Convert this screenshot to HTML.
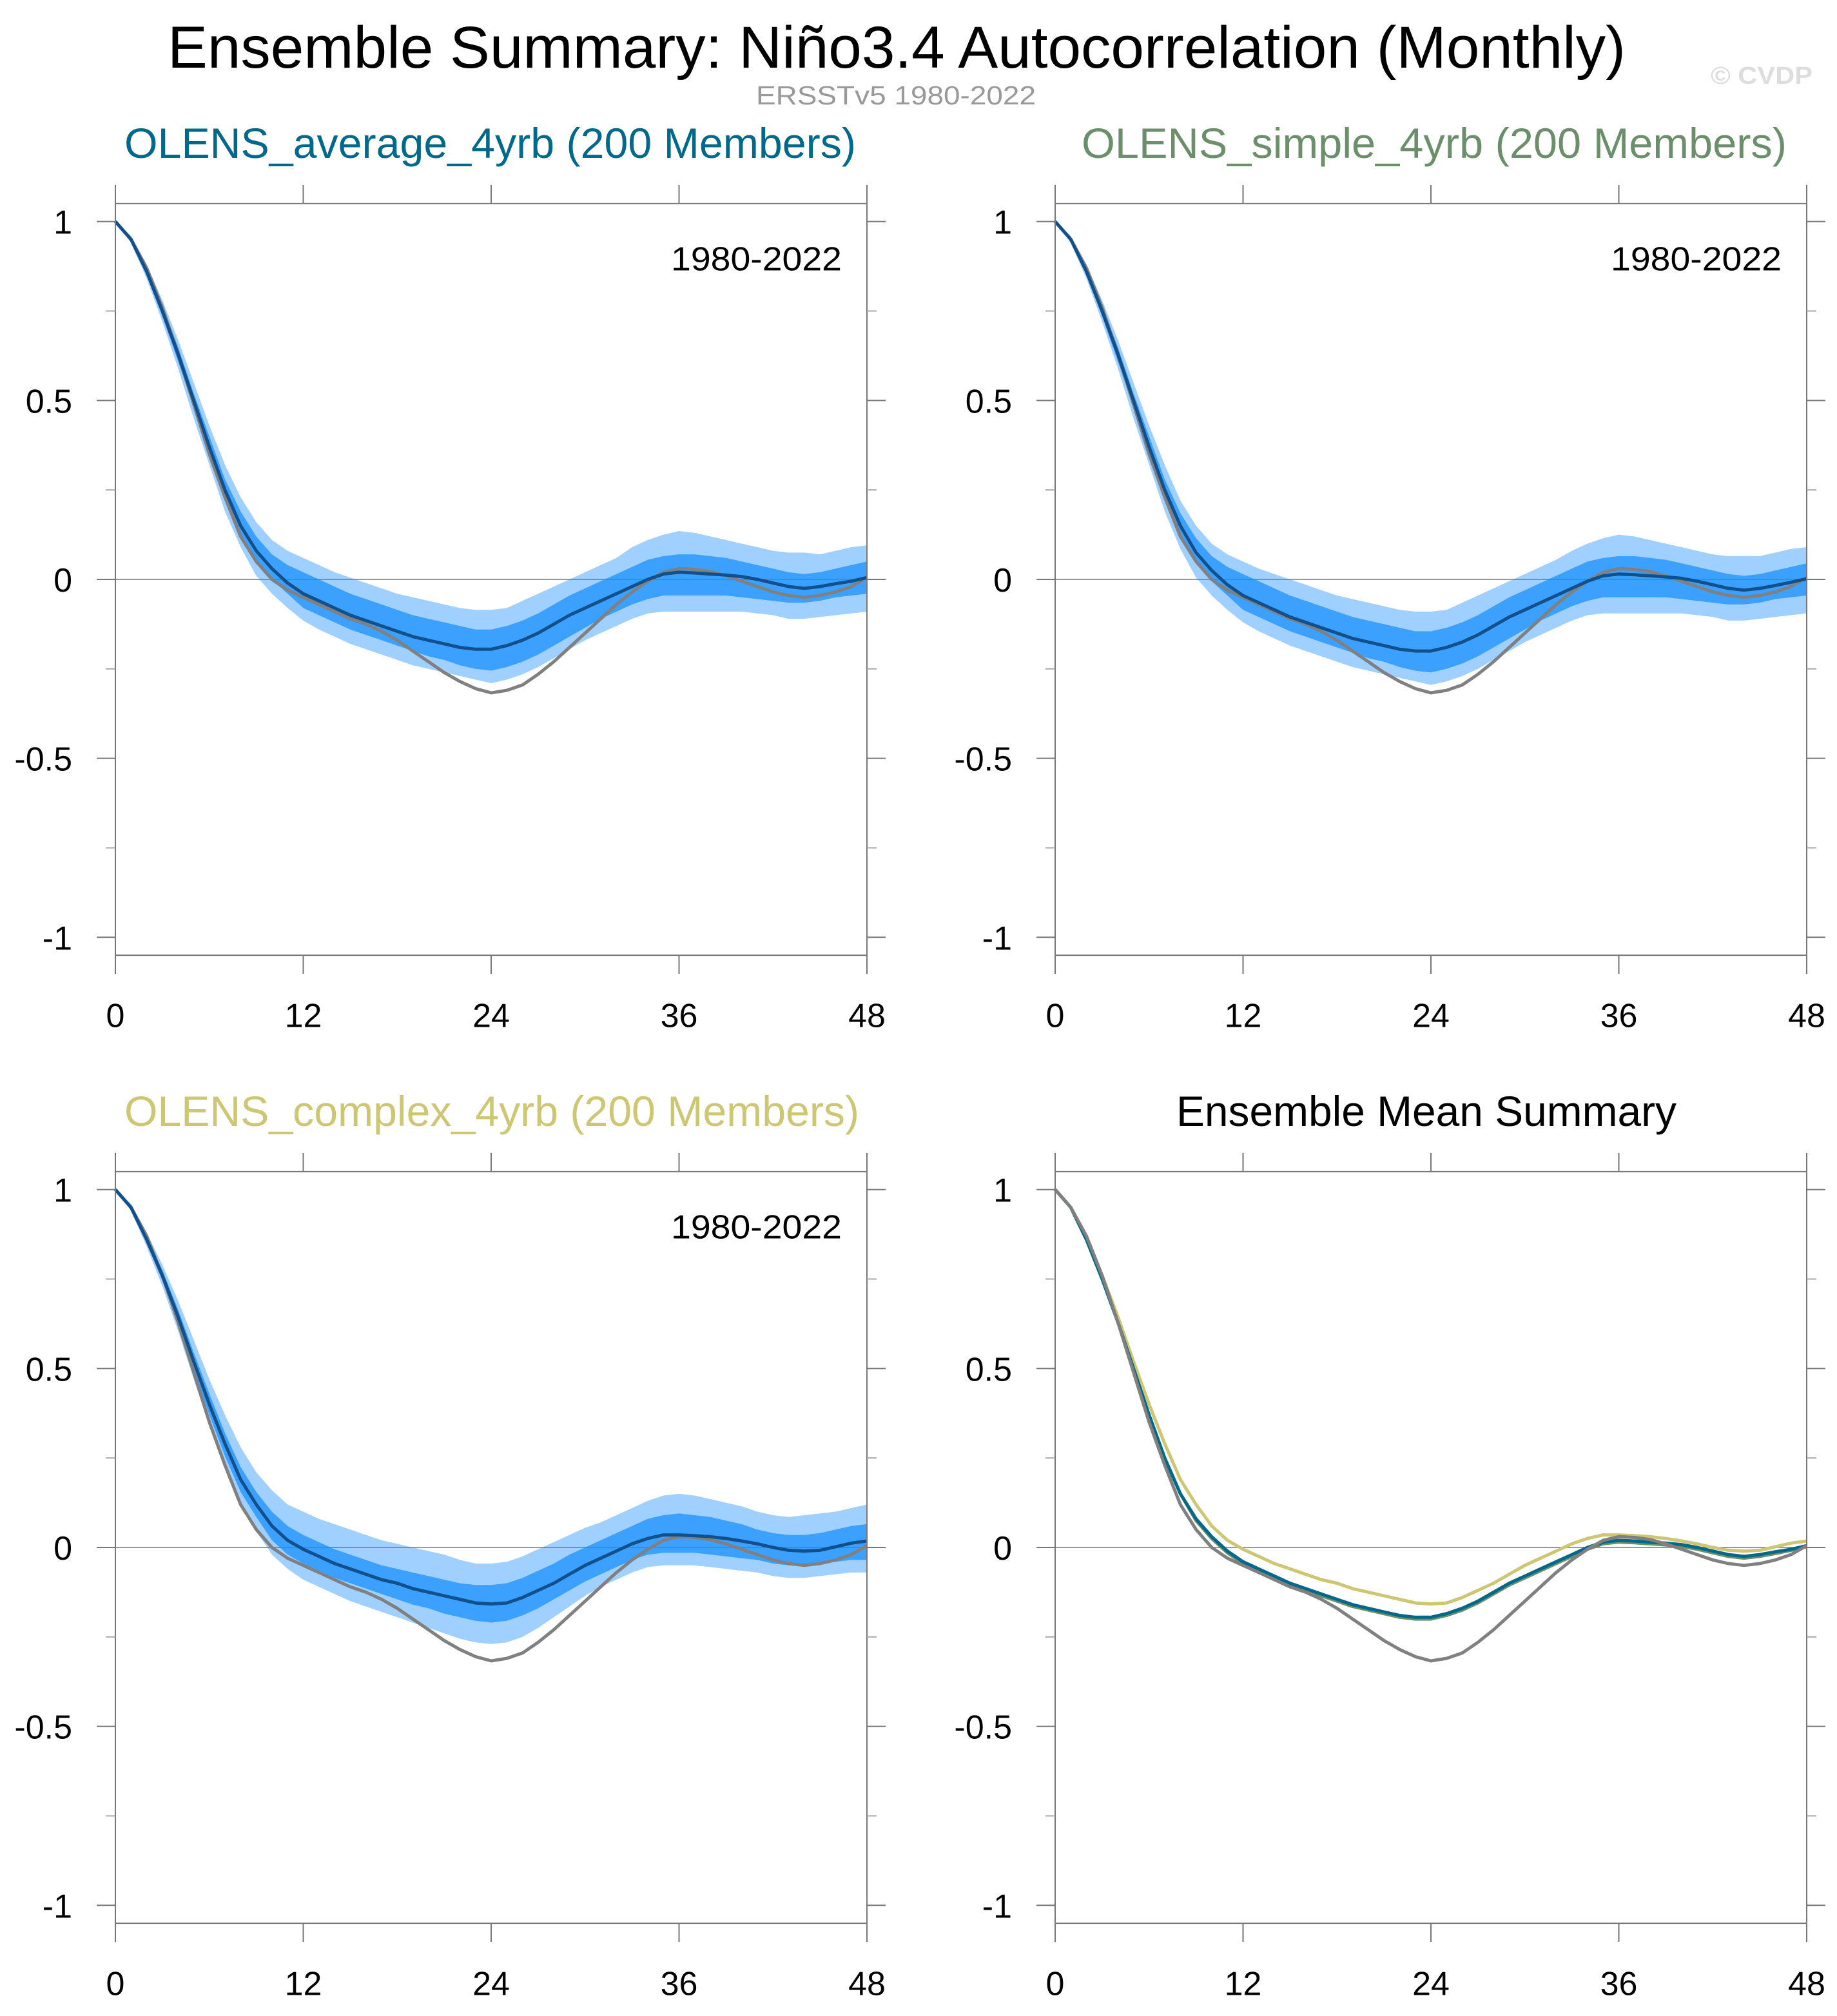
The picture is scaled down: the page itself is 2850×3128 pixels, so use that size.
<!DOCTYPE html>
<html><head><meta charset="utf-8"><title>Ensemble Summary: Niño3.4 Autocorrelation</title>
<style>html,body{margin:0;padding:0;background:#fff;}svg{display:block;font-family:"Liberation Sans",Arial,sans-serif;}</style>
</head><body>
<svg id="fig" xmlns="http://www.w3.org/2000/svg" width="2850" height="3128" viewBox="0 0 2850 3128">
<rect width="2850" height="3128" fill="#fff"/>
<text x="260" y="105" font-size="92" textLength="2262" lengthAdjust="spacingAndGlyphs" fill="#000">Ensemble Summary: Niño3.4 Autocorrelation (Monthly)</text>
<text x="1173" y="162" font-size="41" textLength="434" lengthAdjust="spacingAndGlyphs" fill="#999">ERSST​v5 1980-2022</text>
<text x="2654" y="130" font-size="38" font-weight="bold" textLength="158" lengthAdjust="spacingAndGlyphs" fill="#ddd">© CVDP</text>
<g id="panels"></g>
</svg>
<script>
const months = [];
for (let i = 0; i <= 48; i++) months.push(i);
const yTickVals = [1, 0.5, 0, -0.5, -1];
const yTickLabels = ["1", "0.5", "0", "-0.5", "-1"];
const yMinorVals = [0.75, 0.25, -0.25, -0.75];
const xTickVals = [0, 12, 24, 36, 48];
const xTickLabels = ["0", "12", "24", "36", "48"];

const obs = [1,.95,.87,.76,.63,.49,.35,.23,.12,.05,0,-.03,-.05,-.07,-.09,-.11,-.125,-.145,-.17,-.20,-.23,-.26,-.285,-.305,-.317,-.31,-.295,-.265,-.23,-.19,-.15,-.11,-.07,-.035,-.005,.02,.03,.028,.022,.01,-.005,-.02,-.035,-.045,-.05,-.045,-.035,-.02,.005];

const mean1 = [1,.95,.86,.75,.63,.50,.37,.25,.15,.08,.03,-.01,-.04,-.06,-.08,-.10,-.115,-.13,-.145,-.16,-.17,-.18,-.19,-.195,-.195,-.185,-.17,-.15,-.125,-.10,-.08,-.06,-.04,-.02,0,.015,.02,.018,.015,.012,.008,0,-.01,-.02,-.025,-.02,-.012,-.005,.005];
const p90_1 = [1,.96,.88,.78,.67,.55,.43,.32,.23,.16,.11,.08,.06,.04,.02,.005,-.01,-.025,-.04,-.05,-.06,-.07,-.08,-.085,-.085,-.08,-.06,-.04,-.02,0,.02,.04,.06,.09,.11,.125,.135,.13,.12,.11,.10,.09,.08,.075,.075,.07,.08,.09,.095];
const p75_1 = [1,.955,.87,.765,.65,.52,.40,.28,.19,.12,.07,.04,.02,0,-.02,-.04,-.055,-.07,-.085,-.10,-.11,-.12,-.13,-.14,-.14,-.13,-.115,-.095,-.07,-.045,-.025,-.005,.015,.035,.055,.065,.07,.07,.065,.06,.05,.04,.03,.02,.015,.02,.03,.04,.05];
const p25_1 = [1,.945,.85,.735,.61,.48,.35,.22,.12,.05,0,-.04,-.08,-.10,-.12,-.14,-.155,-.17,-.185,-.20,-.215,-.225,-.24,-.25,-.255,-.245,-.23,-.21,-.185,-.16,-.135,-.11,-.09,-.07,-.055,-.045,-.045,-.045,-.045,-.045,-.05,-.055,-.06,-.065,-.065,-.06,-.05,-.045,-.04];
const p10_1 = [1,.94,.84,.72,.59,.45,.32,.19,.09,.01,-.04,-.08,-.115,-.14,-.16,-.18,-.195,-.21,-.225,-.24,-.25,-.26,-.27,-.28,-.29,-.28,-.265,-.245,-.22,-.195,-.17,-.15,-.13,-.11,-.095,-.09,-.09,-.09,-.09,-.09,-.09,-.095,-.10,-.11,-.11,-.105,-.10,-.095,-.09];

const mean2 = [1,.95,.86,.75,.63,.50,.37,.25,.15,.075,.025,-.015,-.045,-.065,-.085,-.105,-.12,-.135,-.15,-.165,-.175,-.185,-.195,-.2,-.2,-.19,-.175,-.155,-.13,-.105,-.085,-.065,-.045,-.025,-.005,.01,.015,.013,.01,.007,.003,-.005,-.015,-.025,-.03,-.025,-.017,-.008,.002];
const p90_2 = [1,.96,.88,.78,.67,.55,.43,.32,.22,.15,.10,.07,.05,.03,.015,0,-.015,-.03,-.045,-.055,-.065,-.075,-.085,-.09,-.09,-.085,-.065,-.045,-.025,-.005,.015,.035,.055,.08,.10,.115,.125,.12,.11,.10,.09,.08,.07,.065,.065,.065,.075,.085,.09];
const p75_2 = [1,.955,.87,.765,.65,.52,.40,.28,.185,.115,.065,.035,.015,-.005,-.025,-.045,-.06,-.075,-.09,-.105,-.115,-.125,-.135,-.145,-.145,-.135,-.12,-.10,-.075,-.05,-.03,-.01,.01,.03,.05,.06,.065,.065,.06,.055,.045,.035,.025,.015,.01,.015,.025,.035,.045];
const p25_2 = [1,.945,.85,.735,.61,.48,.35,.22,.115,.045,-.005,-.045,-.085,-.105,-.125,-.145,-.16,-.175,-.19,-.205,-.22,-.23,-.245,-.255,-.26,-.25,-.235,-.215,-.19,-.165,-.14,-.115,-.095,-.075,-.06,-.05,-.05,-.05,-.05,-.05,-.055,-.06,-.065,-.07,-.07,-.065,-.055,-.05,-.045];
const p10_2 = [1,.94,.84,.72,.59,.45,.32,.19,.085,.005,-.045,-.085,-.12,-.145,-.165,-.185,-.20,-.215,-.23,-.245,-.255,-.265,-.275,-.285,-.295,-.285,-.27,-.25,-.225,-.20,-.175,-.155,-.135,-.115,-.10,-.095,-.095,-.095,-.095,-.095,-.095,-.10,-.105,-.115,-.115,-.11,-.105,-.10,-.095];

const mean3 = [1,.95,.86,.76,.645,.52,.40,.29,.19,.12,.06,.02,-.005,-.025,-.045,-.06,-.075,-.09,-.10,-.115,-.125,-.135,-.145,-.155,-.158,-.155,-.14,-.12,-.10,-.075,-.05,-.03,-.01,.01,.025,.035,.035,.033,.03,.025,.018,.01,0,-.008,-.01,-.008,.002,.012,.018];
const p90_3 = [1,.96,.88,.79,.69,.58,.47,.37,.28,.21,.16,.12,.10,.08,.065,.05,.035,.02,.01,0,-.01,-.02,-.035,-.045,-.045,-.04,-.025,-.005,.015,.035,.055,.07,.09,.11,.13,.145,.15,.145,.135,.125,.115,.10,.09,.085,.09,.095,.10,.11,.12];
const p75_3 = [1,.955,.87,.775,.665,.545,.43,.32,.225,.155,.10,.06,.035,.015,-.005,-.02,-.035,-.05,-.06,-.07,-.08,-.09,-.10,-.105,-.105,-.10,-.085,-.065,-.045,-.02,0,.02,.04,.06,.08,.09,.095,.09,.085,.075,.065,.05,.04,.035,.035,.04,.05,.06,.065];
const p25_3 = [1,.945,.85,.745,.625,.495,.37,.255,.155,.085,.02,-.02,-.045,-.065,-.085,-.10,-.115,-.13,-.145,-.16,-.17,-.185,-.195,-.205,-.21,-.205,-.19,-.17,-.145,-.12,-.095,-.075,-.055,-.035,-.02,-.015,-.015,-.015,-.02,-.025,-.03,-.035,-.045,-.05,-.05,-.045,-.04,-.035,-.035];
const p10_3 = [1,.94,.84,.73,.605,.47,.34,.22,.12,.045,-.02,-.06,-.09,-.11,-.13,-.15,-.165,-.18,-.195,-.21,-.225,-.24,-.255,-.265,-.27,-.265,-.25,-.225,-.195,-.165,-.135,-.11,-.09,-.07,-.055,-.05,-.05,-.05,-.055,-.06,-.065,-.07,-.08,-.085,-.085,-.08,-.075,-.07,-.07];

const NS = "http://www.w3.org/2000/svg";
const root = document.getElementById("panels");
const PW = 1166, UNIT = 555.3;
const colX = [179, 1637], rowY = [343.7, 1845.7];

function mk(tag, attrs, parent) {
  const e = document.createElementNS(NS, tag);
  for (const k in attrs) e.setAttribute(k, attrs[k]);
  parent.appendChild(e);
  return e;
}

function makeAxes(x0, y1) {
  const xs = m => x0 + m / 48 * PW;
  const ys = v => y1 + (1 - v) * UNIT;
  return { xs, ys };
}

function linePath(ax, vals) {
  return vals.map((v, i) => (i ? "L" : "M") + ax.xs(months[i]).toFixed(1) + " " + ax.ys(v).toFixed(1)).join(" ");
}
function bandPath(ax, lo, hi) {
  let d = hi.map((v, i) => (i ? "L" : "M") + ax.xs(months[i]).toFixed(1) + " " + ax.ys(v).toFixed(1)).join(" ");
  for (let i = lo.length - 1; i >= 0; i--) d += " L" + ax.xs(months[i]).toFixed(1) + " " + ax.ys(lo[i]).toFixed(1);
  return d + " Z";
}

function drawPanel(p) {
  const g = mk("g", {}, root);
  
  
  const ax = makeAxes(p.x0, p.y1);
  const left = ax.xs(0), right = ax.xs(48), top = ax.ys(1.05), bot = ax.ys(-1.05);

  const t = mk("text", { x: p.titleX, y: p.y1 - 98.7, "font-size": 66, fill: p.titleColor, textLength: p.titleW, lengthAdjust: "spacingAndGlyphs" }, g);
  t.textContent = p.title;
  
  

  if (p.bands) {
    const b1 = mk("path", { d: bandPath(ax, p.bands[0], p.bands[3]), fill: "#a0d0ff" }, g);
    
    
    const b2 = mk("path", { d: bandPath(ax, p.bands[1], p.bands[2]), fill: "#3ca0ff" }, g);
    
    
  }
  // zero line
  const z = mk("line", { x1: left - 29, x2: right + 29, y1: ax.ys(0), y2: ax.ys(0), stroke: "#777", "stroke-width": 1.5 }, g);
  
  

  p.lines.forEach(l => {
    const pl = mk("path", { d: linePath(ax, l.vals), fill: "none", stroke: l.color, "stroke-width": 5, "stroke-linejoin": "round" }, g);
    
    
  });

  // frame
  const fr = mk("g", { stroke: "#777", "stroke-width": 2 }, g);
  
  
  mk("line", { x1: left, x2: right, y1: top, y2: top }, fr);
  mk("line", { x1: left, x2: right, y1: bot, y2: bot }, fr);
  mk("line", { x1: left, x2: left, y1: top - 29, y2: bot + 29 }, fr);
  mk("line", { x1: right, x2: right, y1: top - 29, y2: bot + 29 }, fr);
  yTickVals.forEach((v, i) => {
    mk("line", { x1: left - 29, x2: left, y1: ax.ys(v), y2: ax.ys(v) }, fr);
    mk("line", { x1: right, x2: right + 29, y1: ax.ys(v), y2: ax.ys(v) }, fr);
    const tl = mk("text", { x: left - 67, y: ax.ys(v) + 19, "font-size": 52, "text-anchor": "end", fill: "#000", stroke: "none" }, g);
    tl.textContent = yTickLabels[i];
    
    
  });
  yMinorVals.forEach(v => {
    mk("line", { x1: left - 15, x2: left, y1: ax.ys(v), y2: ax.ys(v), stroke: "#aaa" }, fr);
    mk("line", { x1: right, x2: right + 15, y1: ax.ys(v), y2: ax.ys(v), stroke: "#aaa" }, fr);
  });
  xTickVals.forEach((v, i) => {
    mk("line", { x1: ax.xs(v), x2: ax.xs(v), y1: top - 29, y2: top }, fr);
    mk("line", { x1: ax.xs(v), x2: ax.xs(v), y1: bot, y2: bot + 29 }, fr);
    const tl = mk("text", { x: ax.xs(v), y: ax.ys(-1) + 139, "font-size": 52, "text-anchor": "middle", fill: "#000", stroke: "none" }, g);
    tl.textContent = xTickLabels[i];
    
    
  });
  if (p.period) {
    const pt = mk("text", { x: left + 862, y: p.y1 + 76, "font-size": 52, fill: "#000", textLength: 265, lengthAdjust: "spacingAndGlyphs" }, g);
    pt.textContent = "1980-2022";
    
    
  }
}

drawPanel({ name: "panel-olens-average", x0: colX[0], y1: rowY[0], title: "OLENS_average_4yrb (200 Members)", titleColor: "#00688b", titleX: 193, titleW: 1135,
  bands: [p10_1, p25_1, p75_1, p90_1], period: true,
  lines: [{ vals: obs, color: "#808080", name: "obs-line" }, { vals: mean1, color: "#12508c", name: "ensemble-mean-line" }] });
drawPanel({ name: "panel-olens-simple", x0: colX[1], y1: rowY[0], title: "OLENS_simple_4yrb (200 Members)", titleColor: "#6b8e6b", titleX: 1678, titleW: 1094,
  bands: [p10_2, p25_2, p75_2, p90_2], period: true,
  lines: [{ vals: obs, color: "#808080", name: "obs-line" }, { vals: mean2, color: "#12508c", name: "ensemble-mean-line" }] });
drawPanel({ name: "panel-olens-complex", x0: colX[0], y1: rowY[1], title: "OLENS_complex_4yrb (200 Members)", titleColor: "#cdc673", titleX: 193, titleW: 1140,
  bands: [p10_3, p25_3, p75_3, p90_3], period: true,
  lines: [{ vals: obs, color: "#808080", name: "obs-line" }, { vals: mean3, color: "#12508c", name: "ensemble-mean-line" }] });
drawPanel({ name: "panel-ensemble-mean-summary", x0: colX[1], y1: rowY[1], title: "Ensemble Mean Summary", titleColor: "#000", titleX: 1825, titleW: 776,
  bands: null, period: false,
  lines: [{ vals: mean3, color: "#cdc673", name: "complex-mean-line" }, { vals: mean2, color: "#6b8e6b", name: "simple-mean-line" },
          { vals: mean1, color: "#00688b", name: "average-mean-line" }, { vals: obs, color: "#808080", name: "obs-line" }] });
</script>
</body></html>
